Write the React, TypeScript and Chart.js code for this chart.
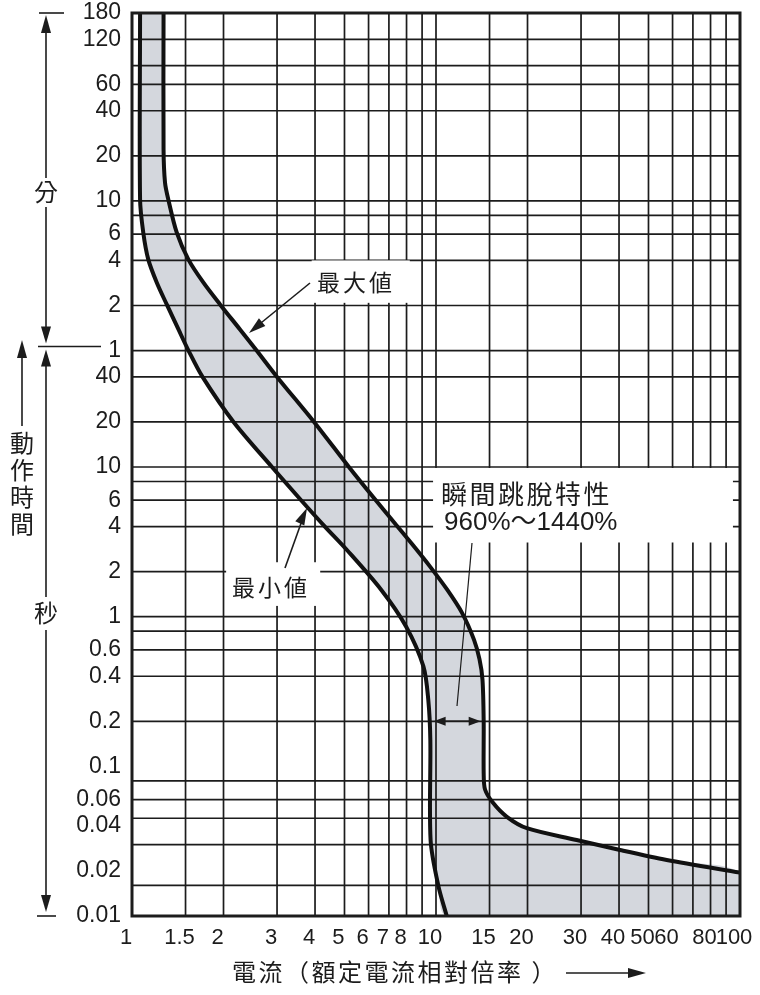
import { useEffect, useRef } from "react";
import { Chart, registerables } from "chart.js";

Chart.register(...registerables);

// 最大値 curve: current (x rated) and trip time (s)
const maxCurrent = [1.27, 1.27, 1.284, 1.316, 1.403, 1.532, 1.716, 1.948, 2.266, 2.57, 3.0, 3.97, 5.17, 6.23, 7.33, 8.47, 9.56, 10.87, 12.18, 13.34, 13.9, 14.22, 14.35, 14.35, 14.5, 15.4, 17.1, 19.9, 29, 40.3, 57.4, 100];
const maxTime = [10800, 1330, 796, 615, 369, 244, 171, 122, 83, 60, 40, 20, 10, 6.25, 4.19, 2.94, 2.16, 1.52, 1.06, 0.7, 0.52, 0.38, 0.2, 0.09, 0.07, 0.057, 0.046, 0.0386, 0.0322, 0.0276, 0.0237, 0.0195];

// 最小値 curve
const minCurrent = [1.063, 1.063, 1.089, 1.131, 1.206, 1.301, 1.422, 1.534, 1.706, 2.158, 2.887, 3.6, 4.31, 5.085, 6.59, 7.97, 9.09, 9.43, 9.58, 9.6, 10.18, 10.85];
const minTime = [10800, 615, 369, 244, 171, 122, 83, 60, 40, 20, 10, 6, 4, 2.8, 1.52, 0.86, 0.465, 0.28, 0.15, 0.032, 0.0159, 0.01];

const xTickValues = [1, 1.5, 2, 3, 4, 5, 6, 7, 8, 10, 15, 20, 30, 40, 50, 60, 80, 100];
const xGridValues = [1.5, 2, 3, 4, 5, 6, 7, 8, 9, 10, 15, 20, 30, 40, 50, 60, 70, 80, 90];

// y axis is in seconds; the upper labels are minutes
const yTickValues = [10800, 7200, 3600, 2400, 1200, 600, 360, 240, 120, 60, 40, 20, 10, 6, 4, 2, 1, 0.6, 0.4, 0.2, 0.1, 0.06, 0.04, 0.02, 0.01];
const yTickLabels = ["180", "120", "60", "40", "20", "10", "6", "4", "2", "1", "40", "20", "10", "6", "4", "2", "1", "0.6", "0.4", "0.2", "0.1", "0.06", "0.04", "0.02", "0.01"];
const yGridValues = [7200, 4800, 3600, 2400, 1200, 600, 480, 360, 240, 120, 60, 40, 20, 10, 8, 6, 4, 2, 1, 0.8, 0.6, 0.4, 0.2, 0.08, 0.06, 0.045, 0.03, 0.016];

const cjk = '"Noto Sans CJK TC", "Noto Sans CJK JP", sans-serif';
const latin = '"Liberation Sans", Arial, "Noto Sans CJK TC", sans-serif';
const ink = "#1c1c1c";

const arrowHead = (ctx: CanvasRenderingContext2D, fx: number, fy: number, tx: number, ty: number, len: number, half: number) => {
    const a = Math.atan2(ty - fy, tx - fx);
    const bx = tx - len * Math.cos(a);
    const by = ty - len * Math.sin(a);
    ctx.beginPath();
    ctx.moveTo(tx, ty);
    ctx.lineTo(bx + half * Math.sin(a), by - half * Math.cos(a));
    ctx.lineTo(bx - half * Math.sin(a), by + half * Math.cos(a));
    ctx.closePath();
    ctx.fill();
};

const line = (ctx: CanvasRenderingContext2D, x1: number, y1: number, x2: number, y2: number) => {
    ctx.beginPath();
    ctx.moveTo(x1, y1);
    ctx.lineTo(x2, y2);
    ctx.stroke();
};

const gridPlugin = {
    id: "paperGrid",
    beforeDatasetsDraw(chart: any) {
        const { ctx, chartArea: area, scales } = chart;
        const { x, y } = scales;
        ctx.save();
        ctx.strokeStyle = ink;
        ctx.lineWidth = 1.7;
        ctx.beginPath();
        xGridValues.forEach((v) => {
            const px = x.getPixelForValue(v);
            ctx.moveTo(px, area.top);
            ctx.lineTo(px, area.bottom);
        });
        yGridValues.forEach((v) => {
            const py = y.getPixelForValue(v);
            ctx.moveTo(area.left, py);
            ctx.lineTo(area.right, py);
        });
        ctx.stroke();

        // white label boxes that break the grid
        ctx.fillStyle = "#ffffff";
        const boxes = [
            [3.9, 8.2, 240, 125],
            [2.04, 4.16, 2.31, 1.18],
            [9.78, 94.8, 9.85, 3.13]
        ];
        boxes.forEach(([x1, x2, t1, t2]) => {
            const l = x.getPixelForValue(x1);
            const r = x.getPixelForValue(x2);
            const t = y.getPixelForValue(t1);
            const b = y.getPixelForValue(t2);
            ctx.fillRect(l, t, r - l, b - t);
        });
        ctx.restore();
    },
    afterDatasetsDraw(chart: any) {
        const { ctx, chartArea: area } = chart;
        ctx.save();
        ctx.strokeStyle = ink;
        ctx.lineWidth = 3;
        ctx.strokeRect(area.left, area.top, area.right - area.left, area.bottom - area.top);
        ctx.restore();
    }
};

const annotationPlugin = {
    id: "notes",
    afterDraw(chart: any) {
        const { ctx, scales } = chart;
        const { x, y } = scales;
        ctx.save();
        ctx.strokeStyle = ink;
        ctx.fillStyle = ink;
        ctx.lineWidth = 1.6;
        ctx.textBaseline = "middle";

        // left side: 分 / 秒 ranges
        const ax = 46;
        const yTop = y.getPixelForValue(10800);
        const yMin = y.getPixelForValue(60);
        const yBot = y.getPixelForValue(0.01);
        line(ctx, 39, yTop, 64, yTop);
        line(ctx, ax, yTop + 10, ax, 178);
        line(ctx, ax, 207, ax, yMin - 14);
        arrowHead(ctx, ax, yTop + 30, ax, yTop + 2, 18, 5);
        arrowHead(ctx, ax, yMin - 30, ax, yMin - 7, 17, 5);
        line(ctx, 38, yMin - 4, 101, yMin - 4);
        arrowHead(ctx, ax, yMin + 20, ax, yMin - 1, 17, 5);
        line(ctx, ax, yMin + 10, ax, 597);
        line(ctx, ax, 630, ax, yBot - 10);
        arrowHead(ctx, ax, yBot - 30, ax, yBot - 4, 17, 5);
        line(ctx, 37, yBot, 56, yBot);

        ctx.textAlign = "center";
        ctx.font = `24px ${cjk}`;
        ctx.fillText("分", ax, 192);
        ctx.fillText("秒", ax, 613);
        ["動", "作", "時", "間"].forEach((c, i) => ctx.fillText(c, 22, 443 + i * 27));
        line(ctx, 22, 426, 22, 355);
        arrowHead(ctx, 22, 370, 22, 340, 18, 5);

        // 最大値 / 最小値
        ctx.font = `23px ${cjk}`;
        (ctx as any).letterSpacing = "3px";
        ctx.textAlign = "left";
        ctx.fillText("最大値", 317, 282);
        ctx.fillText("最小値", 232, 587);
        (ctx as any).letterSpacing = "0px";
        line(ctx, 310, 283, 256, 327);
        arrowHead(ctx, 300, 291, 249, 333, 17, 5);
        line(ctx, 285, 568, 304, 515);
        arrowHead(ctx, 292, 540, 307, 508, 17, 5);

        // 瞬間跳脫特性
        ctx.font = `26px ${cjk}`;
        (ctx as any).letterSpacing = "2.5px";
        ctx.fillText("瞬間跳脫特性", 441, 494);
        (ctx as any).letterSpacing = "0px";
        ctx.font = `26px ${latin}`;
        ctx.fillText("960%～1440%", 444, 523);
        ctx.lineWidth = 1.2;
        line(ctx, 472, 543, 457, 706);

        const ya = y.getPixelForValue(0.2);
        const xl = x.getPixelForValue(9.6) + 3;
        const xr = x.getPixelForValue(14.35) - 3;
        ctx.lineWidth = 1.6;
        line(ctx, xl + 6, ya, xr - 6, ya);
        arrowHead(ctx, xl + 12, ya, xl, ya, 12, 4.5);
        arrowHead(ctx, xr - 12, ya, xr, ya, 12, 4.5);

        // x axis title
        ctx.font = `24px ${cjk}`;
        (ctx as any).letterSpacing = "2.5px";
        ctx.fillText("電流（額定電流相對倍率 ）", 232, 972);
        (ctx as any).letterSpacing = "0px";
        line(ctx, 566, 973, 632, 973);
        arrowHead(ctx, 610, 973, 646, 973, 18, 5);

        ctx.restore();
    }
};

const App = () => {
    const canvasRef = useRef<HTMLCanvasElement | null>(null);
    const chartRef = useRef<any>(null);

    useEffect(() => {
        document.body.style.margin = "0";
        if (!canvasRef.current) return;
        if (chartRef.current) chartRef.current.destroy();

        const maxPoints = maxCurrent.map((v, i) => ({ x: v, y: maxTime[i] }));
        const minPoints = minCurrent.map((v, i) => ({ x: v, y: minTime[i] }));
        const band = [...maxPoints, { x: 100, y: 0.01 }, ...[...minPoints].reverse()];

        chartRef.current = new Chart(canvasRef.current, {
            type: "line",
            data: {
                datasets: [
                    {
                        data: band,
                        borderWidth: 0,
                        borderColor: "rgba(0,0,0,0)",
                        backgroundColor: "#d4d7dd",
                        fill: "shape",
                        pointRadius: 0,
                        tension: 0.3
                    },
                    {
                        data: maxPoints,
                        borderColor: "#111111",
                        borderWidth: 4,
                        pointRadius: 0,
                        fill: false,
                        tension: 0.3
                    },
                    {
                        data: minPoints,
                        borderColor: "#111111",
                        borderWidth: 4,
                        pointRadius: 0,
                        fill: false,
                        tension: 0.3
                    }
                ]
            },
            options: {
                animation: false,
                responsive: true,
                maintainAspectRatio: false,
                layout: { padding: { top: 13, right: 20, bottom: 0, left: 0 } },
                scales: {
                    x: {
                        type: "logarithmic",
                        min: 1,
                        max: 100,
                        border: { display: false },
                        grid: { display: false, drawTicks: false },
                        afterBuildTicks: (scale: any) => {
                            scale.ticks = xTickValues.map((v) => ({ value: v }));
                        },
                        afterFit: (scale: any) => {
                            scale.height = 79;
                            scale.paddingLeft = 0;
                            scale.paddingRight = 0;
                        },
                        ticks: {
                            autoSkip: false,
                            maxRotation: 0,
                            padding: 9,
                            labelOffset: -6,
                            color: ink,
                            font: { family: latin, size: 22 },
                            callback: (value: any) => String(value)
                        }
                    },
                    y: {
                        type: "logarithmic",
                        min: 0.01,
                        max: 10800,
                        border: { display: false },
                        grid: { display: false, drawTicks: false },
                        afterBuildTicks: (scale: any) => {
                            scale.ticks = yTickValues.map((v) => ({ value: v }));
                        },
                        afterFit: (scale: any) => {
                            scale.width = 132;
                            scale.paddingTop = 0;
                            scale.paddingBottom = 0;
                        },
                        ticks: {
                            autoSkip: false,
                            padding: 11,
                            color: ink,
                            font: { family: latin, size: 23 },
                            callback: (value: any) => yTickLabels[yTickValues.indexOf(value)] ?? ""
                        }
                    }
                },
                plugins: {
                    legend: { display: false },
                    tooltip: { enabled: false },
                    filler: { drawTime: "beforeDatasetsDraw" }
                }
            },
            plugins: [gridPlugin, annotationPlugin]
        });

        return () => chartRef.current?.destroy();
    }, []);

    return (
        <div style={{ width: 760, height: 995, position: "relative", background: "#fff" }}>
            <canvas ref={canvasRef}></canvas>
        </div>
    );
};

export default App;
